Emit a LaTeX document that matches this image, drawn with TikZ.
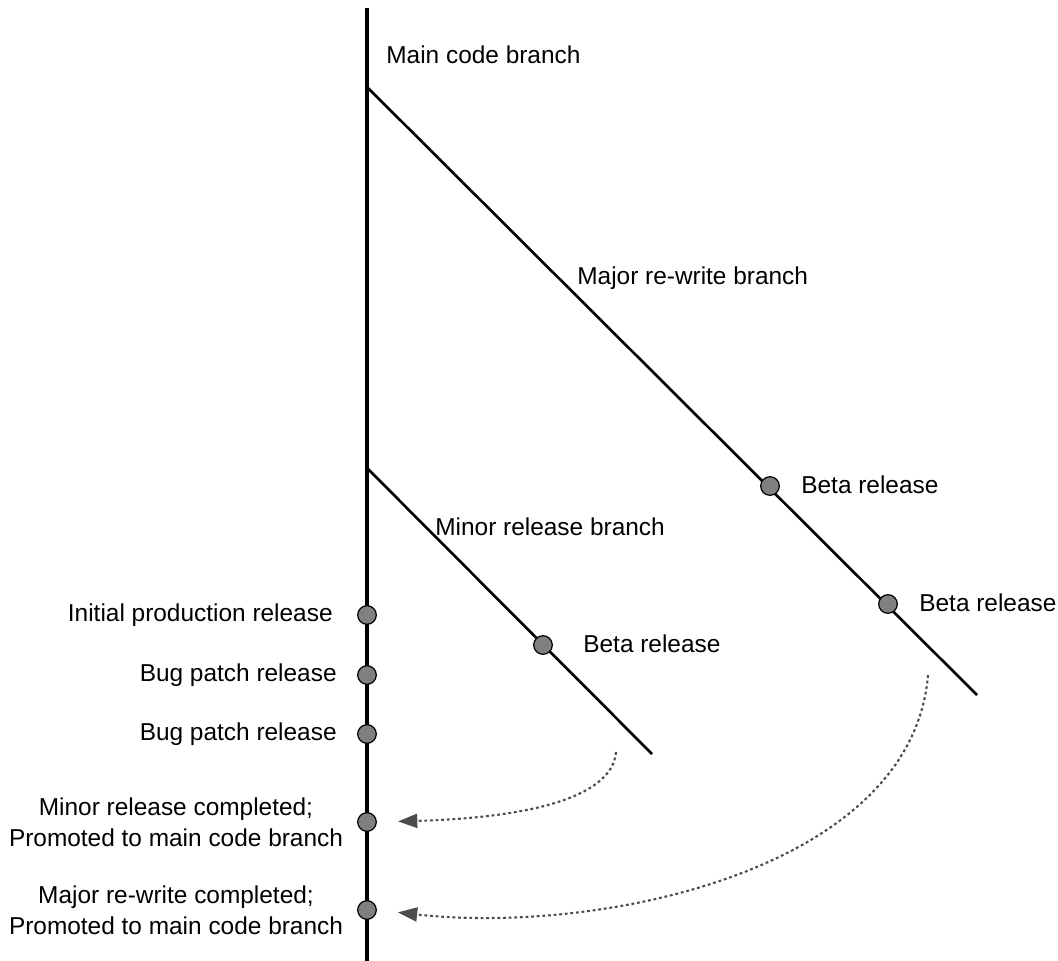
\documentclass[tikz,border=0pt]{standalone}
\usepackage{fontspec}
\setmainfont{Liberation Sans}
\usetikzlibrary{arrows.meta}
\begin{document}
\begin{tikzpicture}[x=0.02cm, y=-0.02cm,
    every node/.style={font=\fontsize{13.9}{16.6}\selectfont, inner sep=0pt},
    release/.style={circle, draw=black, line width=0.7pt, fill=black!50, minimum size=10.6pt},
    branch/.style={line width=1.5pt},
    merge/.style={dash pattern=on 1.6pt off 1.6pt, line width=1.2pt, black!70, -{Triangle[length=11pt, width=8pt]}, shorten >=12pt}]
    \useasboundingbox (0,0) rectangle (1058,960);
    % branches
    \coordinate (mainTop) at (367,8);
    \coordinate (mainBot) at (367,962);
    \coordinate (majStart) at (367,87);
    \coordinate (majEnd) at (977,695);
    \coordinate (minStart) at (367,468);
    \coordinate (minEnd) at (652,754);
    \draw [line width=1.8pt] (mainTop) -- (mainBot);
    \draw [branch] (majStart) -- (majEnd);
    \draw [branch] (minStart) -- (minEnd);
    \node [anchor=west] (mainLbl) at (386,55) {Main code branch};
    \node [anchor=west] (majLbl) at (577,278) {Major re-write branch};
    \node [anchor=west] (minLbl) at (435,527) {Minor release branch};
    % releases on the main branch
    \node [release] (initRel) at (367,615) {};
    \node [release] (bug1) at (367,675) {};
    \node [release] (bug2) at (367,734) {};
    \node [release] (minDone) at (367,822) {};
    \node [release] (majDone) at (367,910) {};
    \node [anchor=east] at (333,615) {Initial production release};
    \node [anchor=east] at (337,675) {Bug patch release};
    \node [anchor=east] at (337,734) {Bug patch release};
    \node [align=center] at (176,822) {Minor release completed;\\[1pt]Promoted to main code branch};
    \node [align=center] at (176,910) {Major re-write completed;\\[1pt]Promoted to main code branch};
    % beta releases
    \node [release] (minBeta) at (543,645) {};
    \node [release] (majBeta1) at (770,486) {};
    \node [release] (majBeta2) at (888,604) {};
    \node [anchor=west] at (583,644) {Beta release};
    \node [anchor=west] at (801,485) {Beta release};
    \node [anchor=west] at (919,603) {Beta release};
    % merges back
    \coordinate (minFrom) at (616,752);
    \coordinate (majFrom) at (928,675);
    \draw [merge] (minFrom) .. controls (612,800) and (520,818) .. (minDone.east);
    \draw [merge] (majFrom) .. controls (912,870) and (600,935) .. (majDone.east);
\end{tikzpicture}
\end{document}
